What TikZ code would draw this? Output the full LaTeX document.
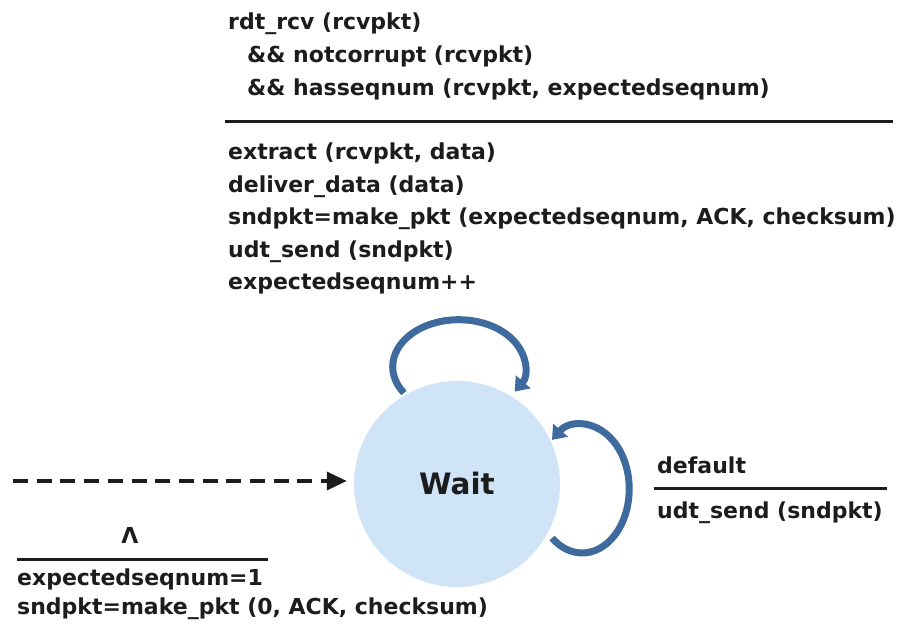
\documentclass[tikz,border=0pt]{standalone}
\usepackage{fontspec}
\setmainfont{DejaVu Sans}
\usetikzlibrary{arrows.meta}
\definecolor{statefill}{HTML}{CFE4F6}
\definecolor{loopblue}{HTML}{3F6A9E}
\definecolor{ink}{HTML}{1C1C1C}
\tikzset{
  lbl/.style={anchor=base west, inner sep=0pt, text=ink,
    font=\fontsize{22}{26}\selectfont\bfseries},
  rule/.style={draw=ink, line width=3pt},
  selfloop/.style={draw=loopblue, line width=7pt,
    -{Triangle[length=13pt,width=19pt]}},
  initarrow/.style={draw=ink, line width=3.5pt, dash pattern=on 15pt off 8.7pt,
    -{Triangle[length=20pt,width=18pt]}},
}
\begin{document}
\begin{tikzpicture}[x=1pt,y=-1pt]
\useasboundingbox (0,0) rectangle (916,628);

% the state
\node[circle, fill=statefill, minimum size=206pt, inner sep=0pt,
      text=ink, font=\fontsize{29.5}{34}\selectfont\bfseries] (wait) at (457,484) {Wait};

% self loop on top
\coordinate (tl) at (404,393);
\draw[selfloop] (tl) arc[start angle=146, end angle=392, x radius=66, y radius=47];

% self loop on the right
\coordinate (rl) at (552,538);
\draw[selfloop] (rl) arc[start angle=130, end angle=-130, x radius=47, y radius=64];

% initial transition
\coordinate (init) at (13,481);
\draw[initarrow, shorten >=7pt] (init) -- (init -| wait.west);

% label of the top loop
\node[lbl] (c1) at (228,30) {rdt\_rcv (rcvpkt)};
\node[lbl] (c2) at (247,63) {\&\& notcorrupt (rcvpkt)};
\node[lbl] (c3) at (247,96) {\&\& hasseqnum (rcvpkt, expectedseqnum)};
\coordinate (tr1) at (225,122);
\coordinate (tr2) at (893,122);
\draw[rule] (tr1) -- (tr2);
\node[lbl] (a1) at (228,160) {extract (rcvpkt, data)};
\node[lbl] (a2) at (228,192.5) {deliver\_data (data)};
\node[lbl] (a3) at (228,225) {sndpkt=make\_pkt (expectedseqnum, ACK, checksum)};
\node[lbl] (a4) at (228,257.5) {udt\_send (sndpkt)};
\node[lbl] (a5) at (228,290) {expectedseqnum++};

% label of the right loop
\node[lbl] (d1) at (657,473) {default};
\coordinate (dr1) at (654,488);
\coordinate (dr2) at (887,488);
\draw[rule] (dr1) -- (dr2);
\node[lbl] (d2) at (657,518) {udt\_send (sndpkt)};

% label of the initial transition
\node[lbl, anchor=base] (i0) at (130,543) {Λ};
\coordinate (ir1) at (17,559);
\coordinate (ir2) at (268,559);
\draw[rule] (ir1) -- (ir2);
\node[lbl] (i1) at (17,585) {expectedseqnum=1};
\node[lbl] (i2) at (17,614) {sndpkt=make\_pkt (0, ACK, checksum)};
\end{tikzpicture}
\end{document}
